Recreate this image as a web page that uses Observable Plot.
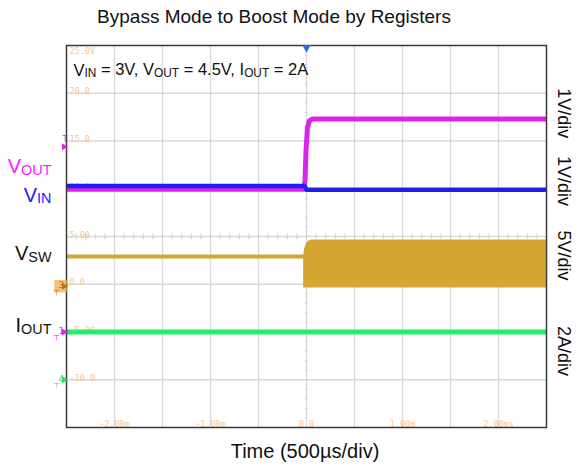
<!DOCTYPE html>
<html><head><meta charset="utf-8">
<script src="https://cdn.jsdelivr.net/npm/d3@7"></script>
<script src="https://cdn.jsdelivr.net/npm/@observablehq/plot@0.6"></script>
<style>
body{margin:0;background:#fff;font-family:"Liberation Sans",Arial,sans-serif;color:#111;}
#title{width:578px;height:36px;box-sizing:border-box;padding-top:6px;padding-right:30px;line-height:22px;font-size:19px;text-align:center;}
#chart{width:578px;height:400px;}
#caption{width:578px;height:34px;box-sizing:border-box;padding-top:4px;padding-left:32px;line-height:22px;font-size:20px;text-align:center;}
</style></head><body>
<div id="title">Bypass Mode to Boost Mode by Registers</div>
<div id="chart"></div>
<div id="caption">Time (500µs/div)</div>
<script>
// ---- grid / tick labels ----
const gridTimes = [-2, -1.5, -1, -0.5, 0, 0.5, 1, 1.5, 2];
const gridLevels = [-10, -5, 0, 5, 10, 15, 20];
const levelLabels = ["-10.0", "-5.00", "0.0", "5.00", "10.0", "15.0", "20.0"];
const topLevel = 25;
const topLabel = "25.0V";
const timeLabelValues = [-2, -1, 0, 1, 2];
const timeLabels = ["-2.00m", "-1.00m", "0.0", "1.00m", "2.00ms"];

// ---- traces (time in ms, level in screen units: 5 per division) ----
const voutTime  = [-2.5, -0.025, -0.015, -0.005, 0.01, 0.03, 0.06, 2.5];
const voutLevel = [9.95, 9.95, 11.0, 14.0, 16.4, 17.1, 17.3, 17.3];
const vinTime   = [-2.5, -0.02, 0.0, 2.5];
const vinLevel  = [10.3, 10.3, 9.9, 9.9];
const vswTime   = [-2.5, -0.03];
const vswLevel  = [2.9, 2.9];
const vswBandTime = [-0.03, -0.02, 0.0, 0.02, 0.05, 2.5];
const vswBandHigh = [2.9, 3.7, 4.25, 4.5, 4.63, 4.63];
const vswBandLow  = [-0.39, -0.39, -0.39, -0.39, -0.39, -0.39];
const ioutTime  = [-2.5, 2.5];
const ioutLevel = [-5.0, -5.0];

// ---- labels ----
const leftNames  = ["V_{OUT}", "V_{IN}", "V_{SW}", "I_{OUT}"];
const leftColors = ["#ff1aff", "#1a1aff", "#111111", "#111111"];
const leftLevels = [11.6, 8.65, 2.5, -5.0];
const rightNames  = ["1V/div", "1V/div", "5V/div", "2A/div"];
const rightLevels = [17.9, 10.8, 3.0, -7.0];
const conditionText = "V_{IN} = 3V, V_{OUT} = 4.5V, I_{OUT} = 2A";

// ---- channel markers ----
const chanDigits = ["3", "1", "4"];
const chanLevels = [-0.2, -5.0, -10.0];
const chanColors = ["#b07a10", "#dd22ee", "#22dd55"];
const triggerLevel = 14.4;
const triggerTime = 0;

const colors = {vout: "#dd22ee", vin: "#1f1ff0", vsw: "#d6a632", iout: "#22ee6e", grid: "#d9d9d9", scale: "#f9c590"};

const zip = (xs, ys) => xs.map((t, i) => ({t, v: ys[i]}));
const vout = zip(voutTime, voutLevel);
const vin = zip(vinTime, vinLevel);
const vsw = zip(vswTime, vswLevel);
const vswBand = vswBandTime.map((t, i) => ({t, hi: vswBandHigh[i], lo: vswBandLow[i]}));
const iout = zip(ioutTime, ioutLevel);
const levelLab = gridLevels.map((v, i) => ({v, label: levelLabels[i]}));
const timeLab = timeLabelValues.map((t, i) => ({t, label: timeLabels[i]}));
const left = leftNames.map((name, i) => ({name, color: leftColors[i], v: leftLevels[i]}));
const right = rightNames.map((name, i) => ({name, v: rightLevels[i]}));
const chans = chanDigits.map((d, i) => ({d, v: chanLevels[i], color: chanColors[i]}));

// minor ticks along the centre cross-hair
const minorT = d3.range(-2.5, 2.5001, 0.1);
const minorV = d3.range(-15, 25.001, 1);

const mono = "DejaVu Sans Mono, monospace";

const chart = Plot.plot({
  width: 578, height: 400,
  marginTop: 9, marginBottom: 9, marginLeft: 66, marginRight: 32,
  x: {domain: [-2.5, 2.5], axis: null},
  y: {domain: [-15, 25], axis: null},
  style: {fontFamily: "Liberation Sans, Arial, sans-serif", background: "white", overflow: "visible"},
  marks: [
    Plot.ruleX(gridTimes, {stroke: colors.grid, strokeWidth: 1.3}),
    Plot.ruleY(gridLevels, {stroke: colors.grid, strokeWidth: 1.3}),
    Plot.link(minorT, {x1: d => d, x2: d => d, y1: 4.7, y2: 5.3, stroke: "#cfcfcf", strokeWidth: 1}),
    Plot.link(minorV, {x1: -0.012, x2: 0.012, y1: d => d, y2: d => d, stroke: "#cfcfcf", strokeWidth: 1}),
    Plot.text(levelLab, {y: "v", text: "label", frameAnchor: "left", dx: 3, dy: 1, lineAnchor: "bottom", textAnchor: "start", fill: colors.scale, fontFamily: mono, fontSize: 8.5}),
    Plot.text([topLabel], {y: topLevel, text: d => d, frameAnchor: "left", dx: 3, dy: 2, lineAnchor: "top", textAnchor: "start", fill: colors.scale, fontFamily: mono, fontSize: 8.5}),
    Plot.text(timeLab, {x: "t", text: "label", frameAnchor: "bottom", dy: -1, lineAnchor: "bottom", textAnchor: "middle", fill: colors.scale, fontFamily: mono, fontSize: 8.5}),
    // traces
    Plot.areaY(vswBand, {x: "t", y1: "lo", y2: "hi", fill: colors.vsw, clip: true}),
    Plot.line(vsw, {x: "t", y: "v", stroke: colors.vsw, strokeWidth: 4, clip: true}),
    Plot.line(iout, {x: "t", y: "v", stroke: colors.iout, strokeWidth: 5, clip: true}),
    Plot.line(vout, {x: "t", y: "v", stroke: colors.vout, strokeWidth: 5, clip: true}),
    Plot.line(vin, {x: "t", y: "v", stroke: colors.vin, strokeWidth: 4.5, clip: true}),
    Plot.frame({stroke: "#3a3a3a", strokeWidth: 1.5}),
    // trigger markers
    Plot.dot([triggerTime], {x: d => d, y: topLevel, symbol: "triangle", rotate: 180, r: 3.2, fill: "#1f6fe8", dy: 2}),
    Plot.text(["T"], {y: triggerLevel, text: d => d, frameAnchor: "left", dx: -4, dy: -8, fill: "#dd22ee", fontFamily: mono, fontSize: 9}),
    Plot.dot([triggerLevel], {y: d => d, frameAnchor: "left", dx: -2.5, symbol: "triangle", rotate: 90, r: 2.6, fill: "#dd22ee"}),
    // channel ground markers
    Plot.dot([chans[0]], {y: "v", frameAnchor: "left", dx: -6, symbol: "square", r: 7, fill: "#f7b55e", fillOpacity: 0.85}),
    Plot.text(chans, {y: "v", text: "d", frameAnchor: "left", dx: -8, dy: -1, fill: "color", fontFamily: mono, fontSize: 9}),
    Plot.dot(chans, {y: "v", frameAnchor: "left", dx: -2.5, symbol: "triangle", rotate: 90, r: 2.6, fill: "color"}),
    Plot.text(chans, {y: "v", text: () => "⊥", frameAnchor: "left", dx: -7, dy: 6, rotate: 180, fill: "color", fontSize: 8}),
    // labels
    Plot.text(left, {y: "v", text: "name", fill: "color", frameAnchor: "left", dx: -15, textAnchor: "end", lineAnchor: "bottom", fontSize: 20}),
    Plot.text(right, {y: "v", text: "name", frameAnchor: "right", dx: 17, rotate: 90, textAnchor: "middle", lineAnchor: "middle", fill: "#111", fontSize: 18}),
    Plot.text([conditionText], {text: d => d, frameAnchor: "top-left", dx: 7, dy: 30, textAnchor: "start", lineAnchor: "bottom", fill: "#111", fontSize: 16.5})
  ]
});

// turn "_{...}" markup into real subscript tspans
d3.select(chart).selectAll("text").each(function () {
  const s = this.textContent;
  if (!s.includes("_{")) return;
  const parts = s.split(/(_\{[^}]*\})/).filter(p => p.length);
  this.textContent = "";
  const sel = d3.select(this);
  let down = false;
  for (const p of parts) {
    const m = p.match(/^_\{([^}]*)\}$/);
    if (m) {
      sel.append("tspan").attr("font-size", "0.72em").attr("dy", "0.12em").text(m[1]);
      down = true;
    } else {
      const t = sel.append("tspan").text(p);
      if (down) { t.attr("dy", "-0.09em"); down = false; }
    }
  }
});

document.getElementById("chart").appendChild(chart);
</script>
</body></html>
